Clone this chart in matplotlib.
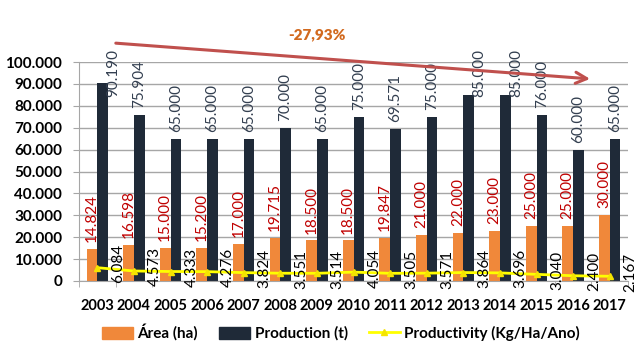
import matplotlib
matplotlib.use("Agg")
import matplotlib.pyplot as plt
import numpy as np
from matplotlib.patches import Patch
from matplotlib.lines import Line2D

years = ["2003", "2004", "2005", "2006", "2007", "2008", "2009", "2010",
         "2011", "2012", "2013", "2014", "2015", "2016", "2017"]
area = [14824, 16598, 15000, 15200, 17000, 19715, 18500, 18500,
        19847, 21000, 22000, 23000, 25000, 25000, 30000]
production = [90190, 75904, 65000, 65000, 65000, 70000, 65000, 75000,
              69571, 75000, 85000, 85000, 76000, 60000, 65000]
productivity = [6084, 4573, 4333, 4276, 3824, 3551, 3514, 4054,
                3505, 3571, 3864, 3696, 3040, 2400, 2167]
yticks = [0, 10000, 20000, 30000, 40000, 50000, 60000, 70000, 80000, 90000, 100000]
change_label = "-27,93%"

def fmt(v):
    return f"{v:,}".replace(",", ".")

plt.rcParams['font.family'] = ['Lato', 'DejaVu Sans']

fig = plt.figure(figsize=(6.4, 3.53), dpi=100)
ax = fig.add_axes([79/640, 1-281/353, 549/640, 219/353])

x = np.arange(len(years))
w = 0.29
c_area = '#F0883A'
c_prod = '#1F2A38'
ax.bar(x - w/2, area, w, color=c_area, zorder=2)
ax.bar(x + w/2, production, w, color=c_prod, zorder=2)
ax.plot(x, productivity, color='#FFFF00', lw=2, marker='^', ms=5,
        markerfacecolor='#F5E400', markeredgecolor='#F5E400', zorder=3)

ax.set_xlim(-0.5, len(years) - 0.5)
ax.set_ylim(0, 100000)
ax.set_yticks(yticks)
ax.set_yticklabels([fmt(t) for t in yticks], fontsize=11, fontweight='bold')
ax.set_xticks(x)
ax.set_xticklabels(years, fontsize=10.5, fontweight='bold')
ax.set_xticks(np.arange(-0.5, len(years), 1), minor=True)
ax.tick_params(axis='x', which='major', length=0, pad=13)
ax.tick_params(axis='x', which='minor', length=4, color='#A6A6A6')
ax.tick_params(axis='y', length=4, color='#A6A6A6', pad=8)
ax.grid(axis='y', color='#A6A6A6', lw=1, zorder=0)
ax.set_axisbelow(True)
for s in ['top', 'right']:
    ax.spines[s].set_visible(False)
for s in ['left', 'bottom']:
    ax.spines[s].set_color('#A6A6A6')

# area labels
for xi, v in zip(x, area):
    ax.annotate(fmt(v), (xi - w/2, v), xytext=(0, 5), textcoords='offset points',
                rotation=90, ha='center', va='bottom', color='#C00000',
                fontsize=11, annotation_clip=False)

# production labels
limit = 84000
for xi, v in zip(x, production):
    base = min(v + 3200, limit)
    dx = 8 if v + 3200 > limit + 4000 else 0
    ax.annotate(fmt(v), (xi + w/2, base), xytext=(dx, 0), textcoords='offset points',
                rotation=90, ha='center', va='bottom', color='#333F50',
                fontsize=11, annotation_clip=False)

# productivity labels
for xi, v in zip(x, productivity):
    ax.annotate(fmt(v), (xi, v), xytext=(15, 3), textcoords='offset points',
                rotation=90, ha='center', va='center', color='black',
                fontsize=11, annotation_clip=False)

# trend arrow
ax.annotate("", xy=(0.936, 0.922), xytext=(0.062, 1.087), xycoords='axes fraction',
            textcoords='axes fraction', annotation_clip=False,
            arrowprops=dict(arrowstyle='->', color='#C0504D', lw=2.2,
                            mutation_scale=20))
ax.text(0.434, 1.123, change_label, transform=ax.transAxes, ha='center', va='center',
        color='#D2691E', fontsize=11, fontweight='heavy')

handles = [Patch(color=c_area, label='Área (ha)'),
           Patch(color=c_prod, label='Production (t)'),
           Line2D([0], [0], color='#FFFF00', lw=2, marker='^', ms=5,
                  markerfacecolor='#F5E400', markeredgecolor='#F5E400',
                  label='Productivity (Kg/Ha/Ano)')]
leg = fig.legend(handles=handles, loc='center', bbox_to_anchor=(0.533, 0.058), ncol=3,
                 frameon=False, prop={'weight': 'bold', 'size': 11},
                 handlelength=2.0, handletextpad=0.3, columnspacing=1.4,
                 handleheight=0.8)

fig.savefig("out.png", dpi=100)
